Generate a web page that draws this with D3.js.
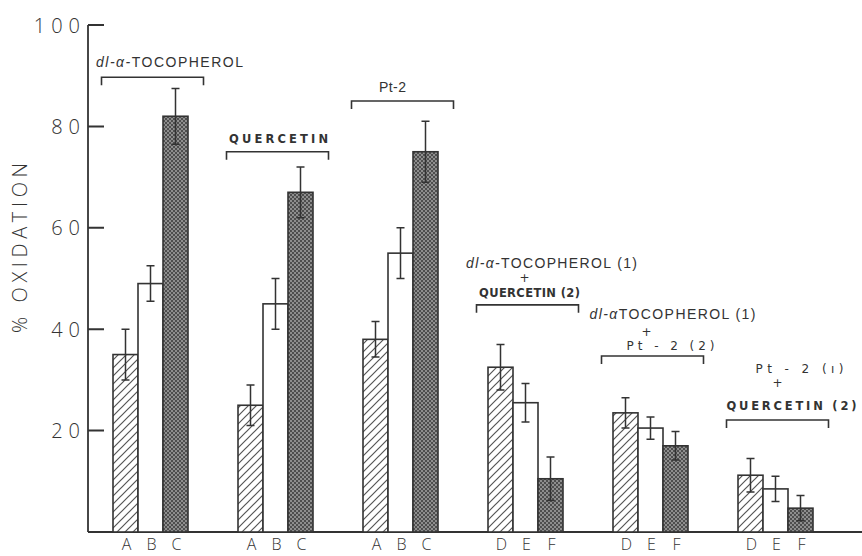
<!DOCTYPE html>
<html><head><meta charset="utf-8">
<script src="https://cdn.jsdelivr.net/npm/d3@7"></script>
<style>body{margin:0;background:#fff}svg{display:block}</style>
</head><body>
<svg id="c" width="862" height="556"></svg>
<script>
// ---- data ----
const groups = ["g1","g2","g3","g4","g5","g6"];
const barLetters = [["A","B","C"],["A","B","C"],["A","B","C"],["D","E","F"],["D","E","F"],["D","E","F"]];
const values = [[35,49,82],[25,45,67],[38,55,75],[32.5,25.5,10.5],[23.5,20.5,17],[11.2,8.5,4.7]];
const errors = [[5,3.5,5.5],[4,5,5],[3.5,5,6],[4.5,3.8,4.3],[3,2.2,2.8],[3.3,2.5,2.5]];
const yTicks = [20,40,60,80,100];
const bracketLevels = [89.7,75,85,44.8,34.7,22.1];
const groupLabels = [
  [[["dl-α-",true],["TOCOPHEROL",false]]],
  [[["QUERCETIN",false]]],
  [[["Pt-2",false]]],
  [[["dl-α-",true],["TOCOPHEROL (1)",false]],[["+",false]],[["QUERCETIN (2)",false]]],
  [[["dl-α",true],["TOCOPHEROL (1)",false]],[["+",false]],[["Pt - 2   (2)",false]]],
  [[["Pt - 2   (ı)",false]],[["+",false]],[["QUERCETIN (2)",false]]]
];
const yTitle = "% OXIDATION";

// ---- layout ----
const svg = d3.select("#c");
const ink = "#333";
const x = d3.scaleBand().domain(groups).range([88,838]).paddingInner(0.4).paddingOuter(0.2);
const xi = d3.scaleBand().domain([0,1,2]).range([0,x.bandwidth()]);
const y = d3.scaleLinear().domain([0,100]).range([532,25]);

const defs = svg.append("defs");
const hatch = defs.append("pattern").attr("id","hatch").attr("patternUnits","userSpaceOnUse")
  .attr("width",8).attr("height",8);
hatch.append("rect").attr("width",8).attr("height",8).attr("fill","#fff");
hatch.append("path").attr("d","M-1,1 l2,-2 M0,8 l8,-8 M7,9 l2,-2").attr("stroke","#555").attr("stroke-width",1.2);
const dots = defs.append("pattern").attr("id","dots").attr("patternUnits","userSpaceOnUse")
  .attr("width",4).attr("height",4);
dots.append("rect").attr("width",4).attr("height",4).attr("fill","#4e4e4e");
dots.append("rect").attr("x",0).attr("y",0).attr("width",2).attr("height",2).attr("fill","#8e8e8e");
dots.append("rect").attr("x",2).attr("y",2).attr("width",2).attr("height",2).attr("fill","#8e8e8e");
const fills = ["url(#hatch)","#fff","url(#dots)"];

// axes
const yAxis = d3.axisLeft(y).tickValues(yTicks).tickSize(0).tickFormat(d3.format("d"));
const ga = svg.append("g").attr("transform","translate(88,0)").call(yAxis);
ga.select(".domain").remove();
ga.selectAll(".tick line").remove();
ga.selectAll(".tick text").attr("fill","#333").attr("font-family","'Open Sans',sans-serif")
  .attr("font-weight",300).attr("font-size",20).attr("letter-spacing",6).attr("x",-2).attr("dy","0.35em");
svg.append("path")
  .attr("d", yTicks.map(d=>`M88,${y(d)}H104`).join(""))
  .attr("stroke","#333").attr("stroke-width",2).attr("fill","none");
svg.append("line").attr("x1",88).attr("x2",88).attr("y1",y(100)).attr("y2",y(0)).attr("stroke",ink).attr("stroke-width",1.8);
svg.append("line").attr("x1",88).attr("x2",862).attr("y1",y(0)).attr("y2",y(0)).attr("stroke",ink).attr("stroke-width",1.8);

svg.append("text").attr("transform","translate(27,"+(248)+") rotate(-90)")
  .attr("text-anchor","middle").attr("font-family","'Open Sans',sans-serif").attr("font-weight",300)
  .attr("font-size",20).attr("fill","#333").attr("textLength",170).attr("lengthAdjust","spacing").text(yTitle);

// bars
groups.forEach((g,gi)=>{
  const gg = svg.append("g").attr("transform","translate("+x(g)+",0)");
  values[gi].forEach((v,bi)=>{
    gg.append("rect").attr("x",xi(bi)).attr("y",y(v)).attr("width",xi.bandwidth()).attr("height",y(0)-y(v))
      .attr("fill",fills[bi]).attr("stroke",ink).attr("stroke-width",1.6);
  });
  values[gi].forEach((v,bi)=>{
    const cx = xi(bi)+xi.bandwidth()/2, e = errors[gi][bi];
    gg.append("path").attr("d",`M${cx},${y(v+e)}V${y(v-e)}M${cx-4},${y(v+e)}h8M${cx-4},${y(v-e)}h8`)
      .attr("stroke",ink).attr("stroke-width",1.5).attr("fill","none");
    gg.append("text").attr("x",cx+1).attr("y",550).attr("text-anchor","middle")
      .attr("font-family","'Open Sans',sans-serif").attr("font-weight",300).attr("font-size",16).attr("fill","#333")
      .text(barLetters[gi][bi]);
  });
});

// brackets and labels
const labelLayout = [
  {dx:[17],dy:[-10],w:[147],font:["sans"]},
  {dx:[1],dy:[-9],w:[99],font:["q"]},
  {dx:[-10],dy:[-9],w:[27],font:["sans"]},
  {dx:[24,-3,2],dy:[-37,-27,-8],w:[171,0,101],font:["sans","plus","q"]},
  {dx:[20,-6,18],dy:[-37,-24,-6],w:[166,0,88],font:["sans","plus","q2"]},
  {dx:[22,0,14],dy:[-47,-37,-10],w:[88,0,130],font:["q2","plus","q"]}
];
groups.forEach((g,gi)=>{
  const cx = x(g)+x.bandwidth()/2+2, by = y(bracketLevels[gi]);
  svg.append("path").attr("d",`M${cx-51},${by+8}V${by}H${cx+51}V${by+8}`)
    .attr("stroke",ink).attr("stroke-width",1.6).attr("fill","none");
  const L = labelLayout[gi];
  groupLabels[gi].forEach((line,li)=>{
    const t = svg.append("text").attr("x",cx+L.dx[li]).attr("y",by+L.dy[li]).attr("text-anchor","middle").attr("fill","#333");
    const f = L.font[li];
    if (f==="q") t.attr("font-family","'DejaVu Sans',sans-serif").attr("font-weight","bold").attr("font-size",11.5);
    else if (f==="q2") t.attr("font-family","'DejaVu Sans',sans-serif").attr("font-size",12);
    else if (f==="plus") t.attr("font-family","'DejaVu Sans',sans-serif").attr("font-size",12).attr("dy","0.35em");
    else t.attr("font-family","'Liberation Sans',Arial,sans-serif").attr("font-size",14);
    if (L.w[li]>0) t.attr("textLength",L.w[li]).attr("lengthAdjust","spacing");
    line.forEach(([s,it])=>{
      const ts = t.append("tspan").text(s);
      if (it) ts.attr("font-style","italic");
    });
  });
});
</script>
</body></html>
